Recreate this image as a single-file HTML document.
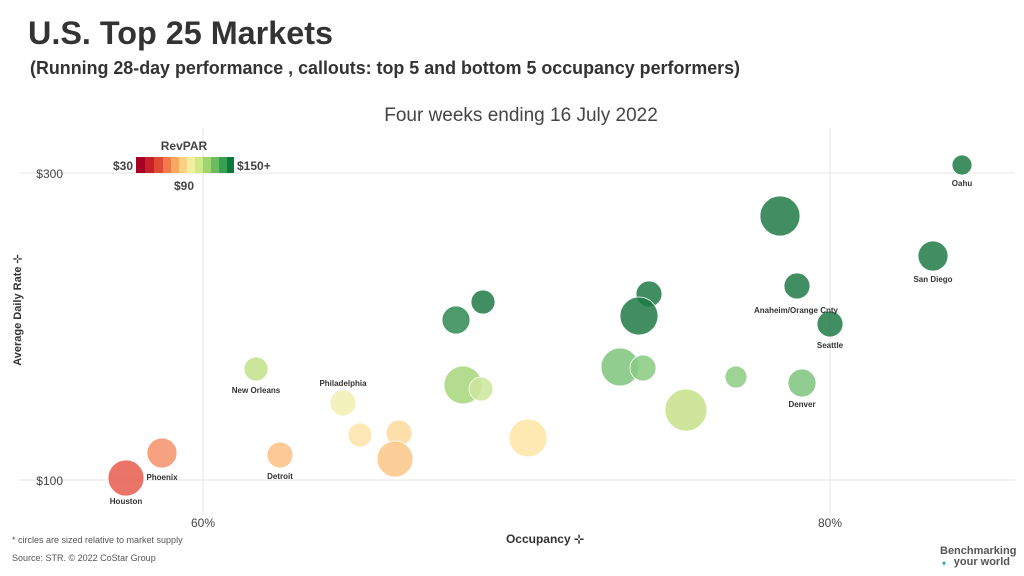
<!DOCTYPE html>
<html><head><meta charset="utf-8"><style>
html,body{margin:0;padding:0;background:#fff;width:1024px;height:576px;overflow:hidden;font-family:"Liberation Sans",sans-serif}
</style></head><body>
<svg width="1024" height="576" viewBox="0 0 1024 576" xmlns="http://www.w3.org/2000/svg" font-family="Liberation Sans, sans-serif">
<text x="28" y="44" font-size="32" font-weight="bold" fill="#333" textLength="305" lengthAdjust="spacingAndGlyphs">U.S. Top 25 Markets</text>
<text x="30" y="74" font-size="18" font-weight="bold" fill="#333" textLength="710" lengthAdjust="spacingAndGlyphs">(Running 28-day performance , callouts: top 5 and bottom 5 occupancy performers)</text>
<text x="521" y="121" font-size="19" fill="#444" text-anchor="middle">Four weeks ending 16 July 2022</text>
<g stroke="#e6e6e6" stroke-width="1">
<line x1="20" y1="173" x2="1015" y2="173"/><line x1="20" y1="480" x2="1015" y2="480"/>
<line x1="203" y1="128" x2="203" y2="515"/><line x1="830" y1="128" x2="830" y2="515"/>
</g>
<text x="63" y="178" font-size="12" fill="#444" text-anchor="end">$300</text>
<text x="63" y="485" font-size="12" fill="#444" text-anchor="end">$100</text>
<text x="203" y="527" font-size="12" fill="#444" text-anchor="middle">60%</text>
<text x="830" y="527" font-size="12" fill="#444" text-anchor="middle">80%</text>
<text x="545" y="543" font-size="12" font-weight="bold" fill="#333" text-anchor="middle">Occupancy ⊹</text>
<text transform="translate(21,310) rotate(-90)" font-size="11" font-weight="bold" fill="#333" text-anchor="middle">Average Daily Rate ⊹</text>
<text x="12" y="543" font-size="9" fill="#555">* circles are sized relative to market supply</text>
<text x="12" y="561" font-size="9" fill="#555">Source: STR. © 2022 CoStar Group</text>
<text x="940" y="554" font-size="11" font-weight="bold" fill="#555">Benchmarking</text>
<text x="1010" y="565" font-size="11" font-weight="bold" fill="#555" text-anchor="end">your world</text>
<text x="942" y="566" font-size="8" fill="#2aa"> ▾</text>
<text x="184" y="150" font-size="12" font-weight="bold" fill="#444" text-anchor="middle">RevPAR</text>
<g>
<rect x="136" y="157" width="9" height="16" fill="#a50026"/><rect x="145" y="157" width="9" height="16" fill="#c8202b"/>
<rect x="154" y="157" width="9" height="16" fill="#e04a35"/><rect x="163" y="157" width="8" height="16" fill="#f07a4a"/>
<rect x="171" y="157" width="8" height="16" fill="#f9a862"/><rect x="179" y="157" width="8" height="16" fill="#fdd083"/>
<rect x="187" y="157" width="8" height="16" fill="#f2ef9e"/><rect x="195" y="157" width="8" height="16" fill="#cfe88a"/>
<rect x="203" y="157" width="8" height="16" fill="#9fd46e"/><rect x="211" y="157" width="8" height="16" fill="#6cbd60"/>
<rect x="219" y="157" width="8" height="16" fill="#37a152"/><rect x="227" y="157" width="7" height="16" fill="#0c7a3c"/>
</g>
<text x="133" y="170" font-size="12" font-weight="bold" fill="#444" text-anchor="end">$30</text>
<text x="237" y="170" font-size="12" font-weight="bold" fill="#444">$150+</text>
<text x="184" y="190" font-size="12" font-weight="bold" fill="#444" text-anchor="middle">$90</text>
<g stroke="#fff" stroke-width="0.8" fill-opacity="0.85">
<circle cx="962" cy="165" r="10" fill="#1f7a47"/>
<circle cx="780" cy="216" r="20" fill="#1f7a47"/>
<circle cx="933" cy="256" r="15" fill="#1f7a47"/>
<circle cx="797" cy="286" r="13" fill="#1f7a47"/>
<circle cx="649" cy="294" r="13" fill="#1f7a47"/>
<circle cx="639" cy="316" r="19" fill="#1f7a47"/>
<circle cx="830" cy="324" r="13" fill="#1f7a47"/>
<circle cx="483" cy="302" r="12" fill="#1f7a47"/>
<circle cx="456" cy="320" r="14" fill="#2e8a50"/>
<circle cx="256" cy="369" r="12" fill="#c2e08a"/>
<circle cx="463" cy="385" r="19" fill="#a6d67a"/>
<circle cx="481" cy="389" r="12" fill="#cbe69e"/>
<circle cx="620" cy="367" r="19" fill="#7cc47a"/>
<circle cx="643" cy="368" r="13" fill="#88ca80"/>
<circle cx="736" cy="377" r="11" fill="#8dcb84"/>
<circle cx="802" cy="383" r="14" fill="#7ec47d"/>
<circle cx="686" cy="410" r="21" fill="#c6e08a"/>
<circle cx="343" cy="403" r="13" fill="#f2f0b0"/>
<circle cx="360" cy="435" r="12" fill="#fbe3a8"/>
<circle cx="399" cy="433" r="13" fill="#fbd99b"/>
<circle cx="395" cy="459" r="18" fill="#fbc786"/>
<circle cx="528" cy="438" r="19" fill="#fde5a3"/>
<circle cx="280" cy="455" r="13" fill="#fbbf85"/>
<circle cx="162" cy="453" r="15" fill="#f4906a"/>
<circle cx="126" cy="478" r="18" fill="#e65c4c"/>
</g>
<g font-size="8" font-weight="bold" fill="#333" text-anchor="middle">
<text x="962" y="186">Oahu</text>
<text x="933" y="282">San Diego</text>
<text x="796" y="313">Anaheim/Orange Cnty</text>
<text x="830" y="348">Seattle</text>
<text x="802" y="407">Denver</text>
<text x="256" y="393">New Orleans</text>
<text x="343" y="386">Philadelphia</text>
<text x="280" y="479">Detroit</text>
<text x="162" y="480">Phoenix</text>
<text x="126" y="504">Houston</text>
</g>
</svg>
</body></html>
